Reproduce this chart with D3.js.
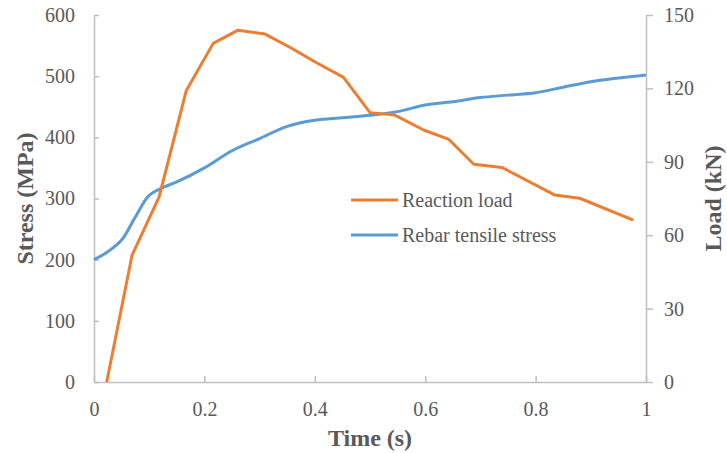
<!DOCTYPE html>
<html>
<head>
<meta charset="utf-8">
<script src="https://cdn.jsdelivr.net/npm/d3@7"></script>
<style>
  html, body { margin: 0; padding: 0; background: #fff; }
  svg { display: block; }
  .tick-label { font-family: "Liberation Serif", "Times New Roman", serif; font-size: 20px; fill: #595959; }
  .axis-title { font-family: "Liberation Serif", "Times New Roman", serif; font-size: 24px; font-weight: bold; fill: #595959; }
</style>
</head>
<body>
<svg id="chart" width="727" height="453"></svg>
<script>
// ====== DADOS ======
const timeTicks = [0, 0.2, 0.4, 0.6, 0.8, 1];
const stressTicks = [0, 100, 200, 300, 400, 500, 600];
const loadTicks = [0, 30, 60, 90, 120, 150];

// Reaction load (kN) - eixo da direita
const loadTime = [0.023, 0.069, 0.118, 0.167, 0.216, 0.261, 0.310, 0.358, 0.400, 0.452,
                  0.500, 0.545, 0.597, 0.642, 0.688, 0.739, 0.835, 0.880, 0.977];
const loadValues = [0, 51.9, 75.7, 119.0, 138.4, 143.8, 142.2, 136.4, 130.9, 124.5,
                    110.1, 109.1, 103.0, 99.3, 89.0, 87.7, 76.4, 75.1, 66.2];

// Rebar tensile stress (MPa) - eixo da esquerda
const stressTime = [0, 0.025, 0.05, 0.075, 0.1, 0.125, 0.15, 0.2, 0.25, 0.3, 0.35, 0.4,
                    0.45, 0.5, 0.55, 0.6, 0.65, 0.7, 0.75, 0.8, 0.85, 0.9, 0.95, 1.0];
const stressValues = [200, 213, 232, 270, 305, 318, 327, 350, 378, 398, 418, 428,
                      432, 436, 442, 453, 458, 465, 469, 473, 482, 491, 497, 502];

const seriesNames = ['Reaction load', 'Rebar tensile stress'];
const seriesColors = ['#ED7D31', '#5B9BD5'];

// ====== LAYOUT ======
const svg = d3.select('#chart');
const plotLeft = 94, plotRight = 646, plotTop = 15, plotBottom = 382;
const axisColor = '#BFBFBF';

const x = d3.scaleLinear().domain([0, 1]).range([plotLeft, plotRight]);
const yStress = d3.scaleLinear().domain([0, 600]).range([plotBottom, plotTop]);
const yLoad = d3.scaleLinear().domain([0, 150]).range([plotBottom, plotTop]);

// ====== EIXOS ======
function styleAxis(g) {
    g.select('.domain').attr('stroke', axisColor).attr('stroke-width', 1.5);
    g.selectAll('.tick line').attr('stroke', axisColor).attr('stroke-width', 1.5);
    g.selectAll('.tick text').attr('class', 'tick-label').attr('fill', null);
    g.attr('font-family', null).attr('font-size', null);
}

// x (ticks para dentro)
svg.append('g')
    .attr('transform', `translate(0,${plotBottom})`)
    .call(d3.axisBottom(x).tickValues(timeTicks).tickFormat(d3.format('~g'))
        .tickSizeInner(-6).tickSizeOuter(0).tickPadding(20))
    .call(styleAxis);

// esquerda (ticks para dentro)
svg.append('g')
    .attr('transform', `translate(${plotLeft},0)`)
    .call(d3.axisLeft(yStress).tickValues(stressTicks)
        .tickSizeInner(-5).tickSizeOuter(0).tickPadding(19))
    .call(styleAxis);

// direita (ticks para fora)
svg.append('g')
    .attr('transform', `translate(${plotRight},0)`)
    .call(d3.axisRight(yLoad).tickValues(loadTicks)
        .tickSizeInner(7).tickSizeOuter(0).tickPadding(11))
    .call(styleAxis);

// ====== TÍTULOS ======
svg.append('text')
    .attr('class', 'axis-title')
    .attr('x', (plotLeft + plotRight) / 2)
    .attr('y', 446)
    .attr('text-anchor', 'middle')
    .text('Time (s)');

svg.append('text')
    .attr('class', 'axis-title')
    .attr('transform', `translate(25,${(plotTop + plotBottom) / 2}) rotate(-90)`)
    .attr('text-anchor', 'middle')
    .attr('dominant-baseline', 'central')
    .text('Stress (MPa)');

svg.append('text')
    .attr('class', 'axis-title')
    .attr('transform', `translate(713,${(plotTop + plotBottom) / 2}) rotate(-90)`)
    .attr('text-anchor', 'middle')
    .attr('dominant-baseline', 'central')
    .text('Load (kN)');

// ====== LINHAS ======
const loadData = loadTime.map((t, i) => ({ t: t, v: loadValues[i] }));
const stressData = stressTime.map((t, i) => ({ t: t, v: stressValues[i] }));

const loadLine = d3.line()
    .x(d => x(d.t))
    .y(d => yLoad(d.v));

const stressLine = d3.line()
    .curve(d3.curveCatmullRom.alpha(0.5))
    .x(d => x(d.t))
    .y(d => yStress(d.v));

svg.append('path')
    .datum(stressData)
    .attr('fill', 'none')
    .attr('stroke', seriesColors[1])
    .attr('stroke-width', 3)
    .attr('stroke-linejoin', 'round')
    .attr('d', stressLine);

svg.append('path')
    .datum(loadData)
    .attr('fill', 'none')
    .attr('stroke', seriesColors[0])
    .attr('stroke-width', 3)
    .attr('stroke-linejoin', 'round')
    .attr('d', loadLine);

// ====== LEGENDA ======
const legend = svg.append('g').attr('transform', 'translate(351,200)');
seriesNames.forEach((name, i) => {
    const row = legend.append('g').attr('transform', `translate(0,${i * 35})`);
    row.append('line')
        .attr('x1', 0).attr('x2', 47)
        .attr('y1', 0).attr('y2', 0)
        .attr('stroke', seriesColors[i])
        .attr('stroke-width', 3);
    row.append('text')
        .attr('class', 'tick-label')
        .attr('x', 51)
        .attr('y', 0)
        .attr('dominant-baseline', 'central')
        .text(name);
});
</script>
</body>
</html>
